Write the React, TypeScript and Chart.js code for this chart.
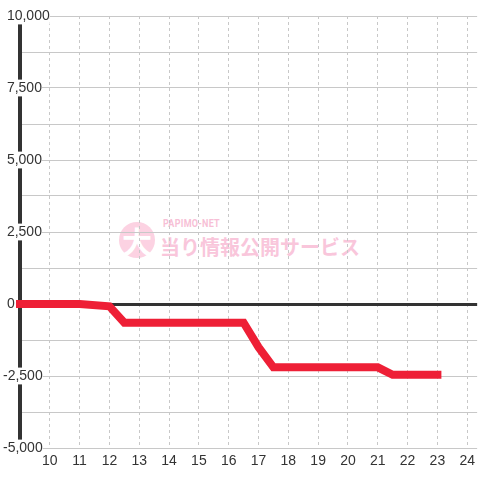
import React, { useEffect, useRef } from "react";
import { Chart, registerables } from "chart.js";

Chart.register(...registerables);

// Data
const hours = [9, 11, 12, 12.5, 16.5, 17, 17.5, 21, 21.5, 23];
const diffValues = [0, 0, -80, -650, -650, -1500, -2200, -2200, -2460, -2460];
const xTickValues = [10, 11, 12, 13, 14, 15, 16, 17, 18, 19, 20, 21, 22, 23, 24];
const yTickValues = [-5000, -3750, -2500, -1250, 0, 1250, 2500, 3750, 5000, 6250, 7500, 8750, 10000];
const yLabelValues = [-5000, -2500, 0, 2500, 5000, 7500, 10000];

const FONT = "'Liberation Sans', Arial, sans-serif";

function formatY(v: number): string {
  const s = Math.abs(v).toLocaleString("en-US");
  return v < 0 ? "-" + s : " " + s;
}

export default function App() {
  const canvasRef = useRef<HTMLCanvasElement | null>(null);

  useEffect(() => {
    if (!canvasRef.current) return;
    const chart = new Chart(canvasRef.current, {
      type: "line",
      data: {
        datasets: [
          {
            data: hours.map((h, i) => ({ x: h, y: diffValues[i] })),
            borderColor: "#ee1f36",
            borderWidth: 8,
            pointRadius: 0,
            pointHoverRadius: 0,
            tension: 0,
            fill: false,
            borderCapStyle: "square",
            borderJoinStyle: "miter",
            clip: false as any,
          },
        ],
      },
      options: {
        animation: false,
        responsive: false,
        events: [],
        layout: { padding: { left: 3, top: 16, right: 0, bottom: 0 } },
        plugins: {
          legend: { display: false },
          tooltip: { enabled: false },
        },
        scales: {
          x: {
            type: "linear",
            min: 9,
            max: 24 + 1 / 3,
            afterBuildTicks: (s: any) => {
              s.ticks = xTickValues.map((v) => ({ value: v }));
            },
            afterFit: (s: any) => {
              s.height = 32;
            },
            grid: { color: "#c8c8c8", lineWidth: 1, drawTicks: false },
            border: { display: false, dash: [3, 3] },
            ticks: {
              color: "#333",
              font: { size: 14, family: FONT },
              padding: 5,
              autoSkip: false,
              maxRotation: 0,
              callback: (v: any) => String(v),
            },
          },
          y: {
            type: "linear",
            min: -5000,
            max: 10000,
            afterBuildTicks: (s: any) => {
              s.ticks = yTickValues.map((v) => ({ value: v }));
            },
            afterFit: (s: any) => {
              s.width = 17;
            },
            grid: {
              color: (ctx: any) => (ctx.tick && ctx.tick.value === 0 ? "#333" : "#c8c8c8"),
              lineWidth: (ctx: any) => (ctx.tick && ctx.tick.value === 0 ? 3 : 1),
              drawTicks: false,
            },
            border: { display: true, color: "#333", width: 4 },
            ticks: {
              mirror: true,
              padding: -17,
              crossAlign: "near",
              color: "#333",
              font: { size: 14, family: FONT },
              autoSkip: false,
              showLabelBackdrop: true,
              backdropColor: "#ffffff",
              backdropPadding: 0,
              callback: (v: any) => (yLabelValues.includes(Number(v)) ? formatY(Number(v)) : ""),
            },
          },
        },
      } as any,
    });
    return () => chart.destroy();
  }, []);

  return (
    <div style={{ position: "fixed", left: 0, top: 0, width: 480, height: 480, background: "#fff" }}>
      <div style={{ position: "absolute", left: 0, top: 0, width: 480, height: 480, pointerEvents: "none" }}>
        <div
          style={{
            position: "absolute",
            left: 119,
            top: 222,
            width: 36,
            height: 36,
            borderRadius: "50%",
            background: "#fcd2e2",
            color: "#fff",
            fontFamily: "'Noto Sans CJK JP', sans-serif",
            fontWeight: 700,
            fontSize: 30,
            lineHeight: "36px",
            textAlign: "center",
          }}
        >
          大
        </div>
        <div
          style={{
            position: "absolute",
            left: 163,
            top: 218,
            fontFamily: "Roboto, sans-serif",
            fontWeight: 700,
            fontSize: 10,
            lineHeight: "12px",
            letterSpacing: "0.3px",
            color: "#f7bfd6",
            whiteSpace: "nowrap",
            transform: "scaleX(0.9)",
            transformOrigin: "left center",
          }}
        >
          PAPIMO-NET
        </div>
        <div
          style={{
            position: "absolute",
            left: 160,
            top: 236,
            fontFamily: "'Noto Sans CJK JP', sans-serif",
            fontWeight: 700,
            fontSize: 20,
            lineHeight: "22px",
            color: "#f9c6db",
            whiteSpace: "nowrap",
          }}
        >
          当り情報公開サービス
        </div>
      </div>
      <canvas
        ref={canvasRef}
        width={480}
        height={480}
        style={{ position: "absolute", left: 0, top: 0, width: 480, height: 480 }}
      />
    </div>
  );
}
